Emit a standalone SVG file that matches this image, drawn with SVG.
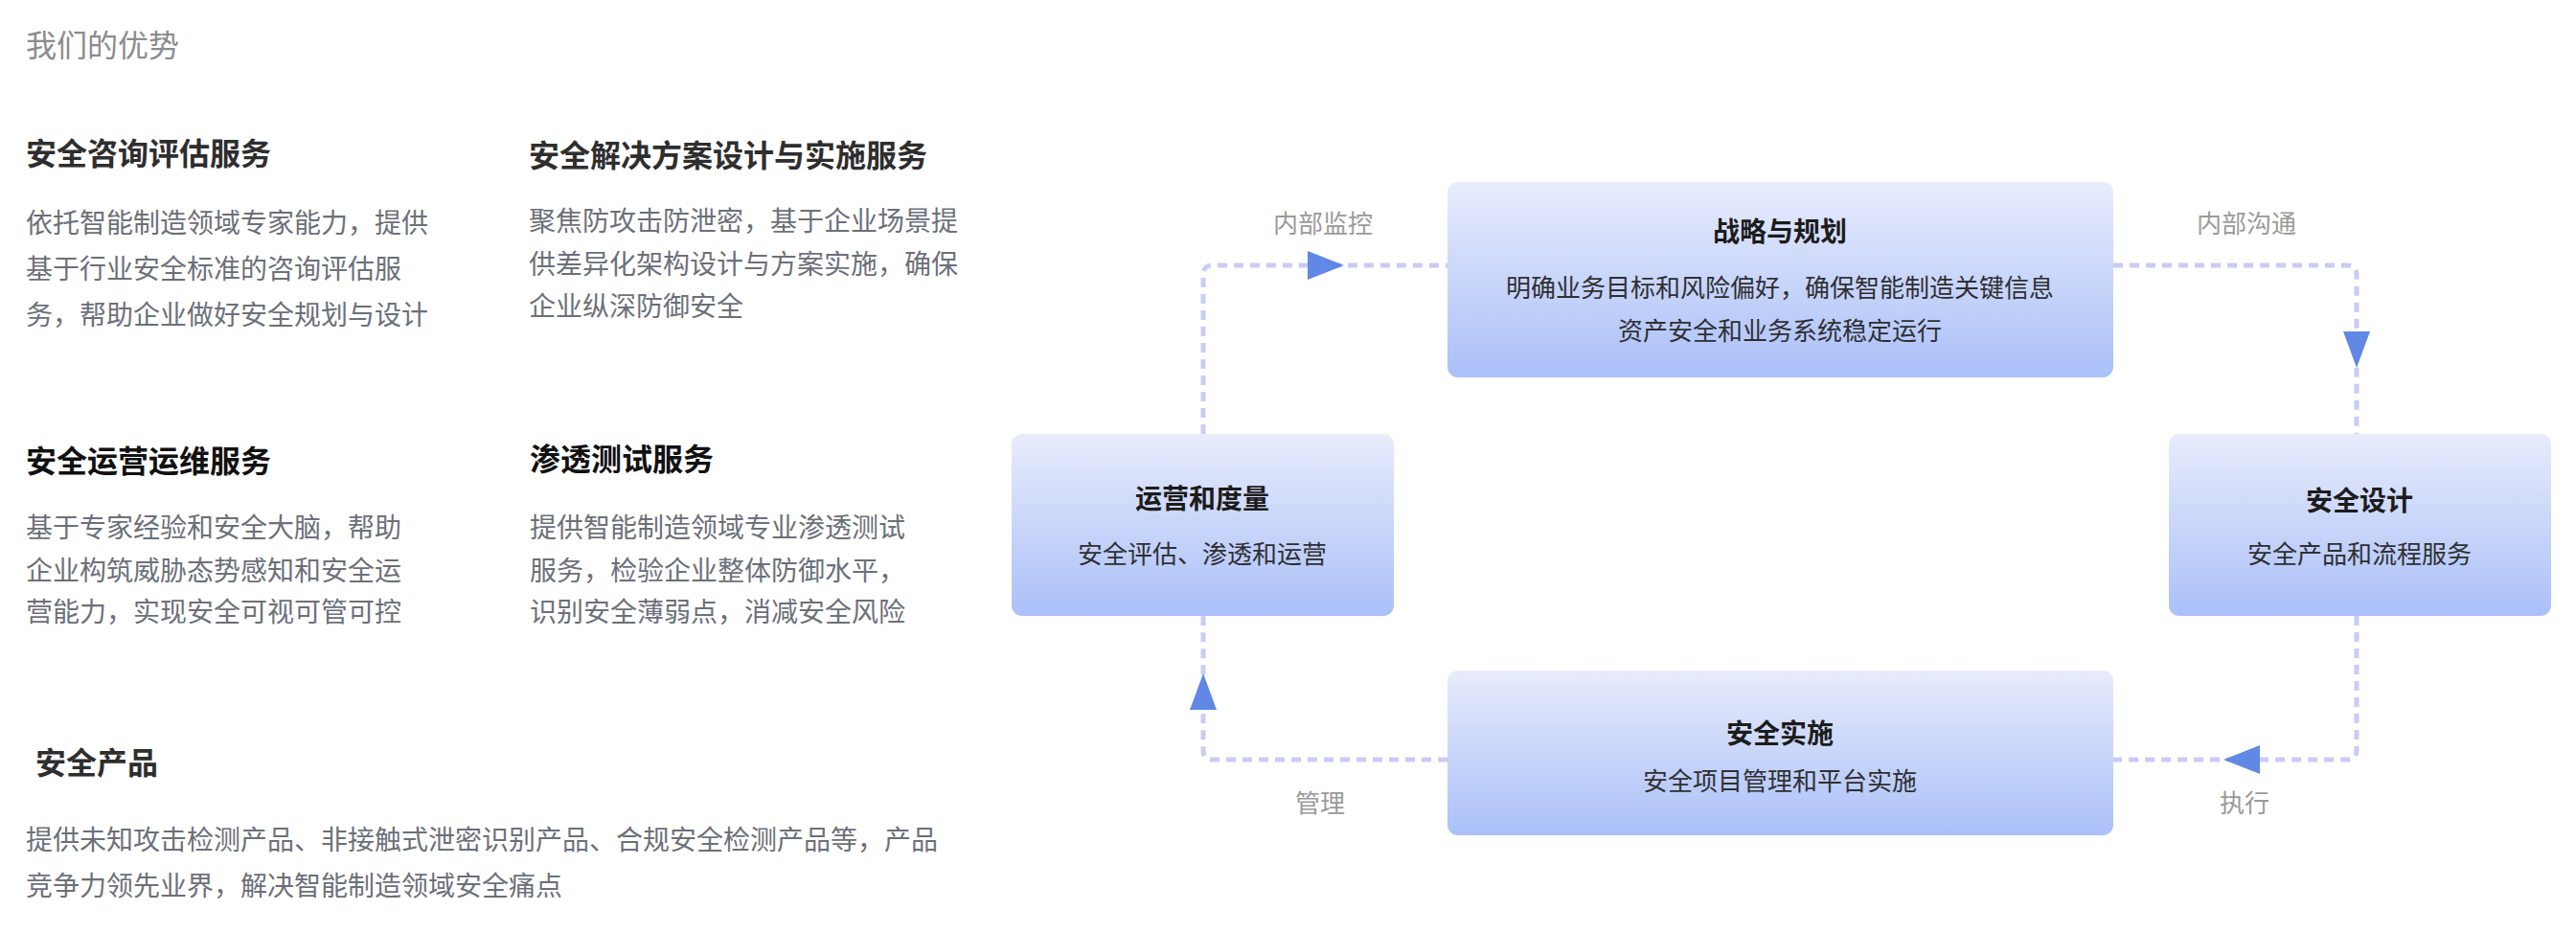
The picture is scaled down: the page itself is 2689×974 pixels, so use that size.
<svg xmlns="http://www.w3.org/2000/svg" width="2689" height="974" viewBox="0 0 2689 974">
<defs>
<style>
text{font-family:"Noto Sans CJK SC","Noto Sans",sans-serif}
.title{font-size:32px;fill:#8c8c8c}
.h1{font-size:32px;font-weight:700;fill:#2e2e2e}
.h2{font-size:32px;font-weight:700;fill:#111}
.body{font-size:28px;fill:#6b7079}
.nt{font-size:28px;font-weight:700;fill:#1c1c1c;text-anchor:middle}
.ns{font-size:26px;fill:#2f2f33;text-anchor:middle}
.lbl{font-size:26px;fill:#9a9a9a;text-anchor:middle}
.box{fill:url(#g)}
.dash{fill:none;stroke:#c8cdf6;stroke-width:5;stroke-dasharray:10 7}
.arr{fill:#6088e4}
</style>
<linearGradient id="g" x1="0" y1="0" x2="0" y2="1">
<stop offset="0" stop-color="#e8ecfc"/>
<stop offset="1" stop-color="#aac0f8"/>
</linearGradient>
</defs>
<rect width="2689" height="974" fill="#fff"/>

<g id="left-text">
<text class="title" x="27" y="59">我们的优势</text>
<g id="s1">
<text class="h1" x="27" y="172">安全咨询评估服务</text>
<text class="body" x="27" y="243">依托智能制造领域专家能力，提供</text>
<text class="body" x="27" y="291">基于行业安全标准的咨询评估服</text>
<text class="body" x="27" y="339">务，帮助企业做好安全规划与设计</text>
</g>
<g id="s2">
<text class="h1" x="552" y="174">安全解决方案设计与实施服务</text>
<text class="body" x="552" y="241">聚焦防攻击防泄密，基于企业场景提</text>
<text class="body" x="552" y="286">供差异化架构设计与方案实施，确保</text>
<text class="body" x="552" y="330">企业纵深防御安全</text>
</g>
<g id="s3">
<text class="h2" x="27" y="493">安全运营运维服务</text>
<text class="body" x="27" y="561">基于专家经验和安全大脑，帮助</text>
<text class="body" x="27" y="606">企业构筑威胁态势感知和安全运</text>
<text class="body" x="27" y="649">营能力，实现安全可视可管可控</text>
</g>
<g id="s4">
<text class="h2" x="553" y="491">渗透测试服务</text>
<text class="body" x="553" y="561">提供智能制造领域专业渗透测试</text>
<text class="body" x="553" y="606">服务，检验企业整体防御水平，</text>
<text class="body" x="553" y="649">识别安全薄弱点，消减安全风险</text>
</g>
<g id="s5">
<text class="h1" x="37" y="808">安全产品</text>
<text class="body" x="27" y="887">提供未知攻击检测产品、非接触式泄密识别产品、合规安全检测产品等，产品</text>
<text class="body" x="27" y="935">竞争力领先业界，解决智能制造领域安全痛点</text>
</g>
</g>

<g id="connectors">
<path class="dash" d="M1256,453 V287 Q1256,277 1266,277 H1511"/>
<path class="dash" d="M2206,277 H2450 Q2460,277 2460,287 V453"/>
<path class="dash" d="M2460,643 V783 Q2460,793 2450,793 H2206"/>
<path class="dash" d="M1511,793 H1266 Q1256,793 1256,783 V643"/>
<polygon class="arr" points="1365,262 1403,277 1365,292"/>
<polygon class="arr" points="2446,346 2474,346 2460,384"/>
<polygon class="arr" points="2359,778 2321,793 2359,808"/>
<polygon class="arr" points="1242,741 1256,703 1270,741"/>
<text class="lbl" x="1381" y="243">内部监控</text>
<text class="lbl" x="2345" y="243">内部沟通</text>
<text class="lbl" x="2343" y="848">执行</text>
<text class="lbl" x="1378" y="848">管理</text>
</g>

<g id="node-strategy">
<rect class="box" x="1511" y="190" width="695" height="204" rx="11"/>
<text class="nt" x="1858" y="252">战略与规划</text>
<text class="ns" x="1858" y="310">明确业务目标和风险偏好，确保智能制造关键信息</text>
<text class="ns" x="1858" y="355">资产安全和业务系统稳定运行</text>
</g>
<g id="node-ops">
<rect class="box" x="1056" y="453" width="399" height="190" rx="11"/>
<text class="nt" x="1255" y="531">运营和度量</text>
<text class="ns" x="1255" y="588">安全评估、渗透和运营</text>
</g>
<g id="node-design">
<rect class="box" x="2264" y="453" width="399" height="190" rx="11"/>
<text class="nt" x="2463" y="533">安全设计</text>
<text class="ns" x="2463" y="588">安全产品和流程服务</text>
</g>
<g id="node-impl">
<rect class="box" x="1511" y="700" width="695" height="172" rx="11"/>
<text class="nt" x="1858" y="776">安全实施</text>
<text class="ns" x="1858" y="825">安全项目管理和平台实施</text>
</g>
</svg>
